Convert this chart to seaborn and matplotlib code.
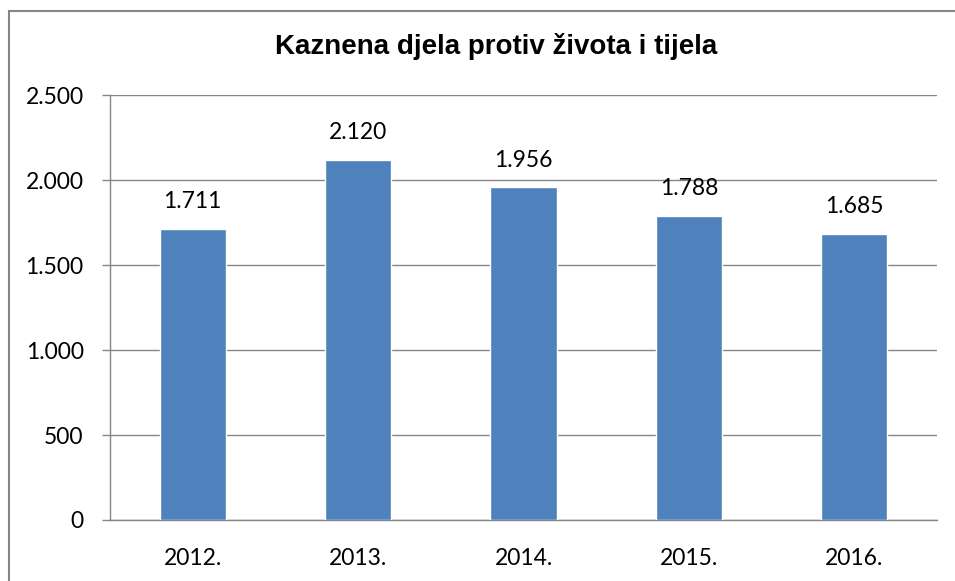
import matplotlib
matplotlib.use("Agg")
import matplotlib.pyplot as plt
import matplotlib.ticker as mticker
from matplotlib.patches import Rectangle
import seaborn as sns
import pandas as pd

years = ["2012.", "2013.", "2014.", "2015.", "2016."]
counts = [1711, 2120, 1956, 1788, 1685]
bar_color = "#4F81BD"
grid_gray = "#868686"

df = pd.DataFrame({"godina": years, "broj": counts})

sns.set_style("white")
plt.rcParams["font.family"] = ["Lato", "DejaVu Sans"]
plt.rcParams["text.color"] = "black"
plt.rcParams["xtick.color"] = "black"
plt.rcParams["ytick.color"] = "black"

def dotted(v):
    return f"{int(v):,}".replace(",", ".")

fig = plt.figure(figsize=(9.55, 5.81), dpi=100)
ax = fig.add_axes([110 / 955, 1 - 520 / 581, 827 / 955, 425 / 581])

sns.barplot(data=df, x="godina", y="broj", color=bar_color, width=0.4,
            saturation=1, ax=ax, zorder=3)

ax.set_xlim(-0.5, 4.5)
ax.set_ylim(0, 2500)
ax.yaxis.set_major_locator(mticker.MultipleLocator(500))
ax.yaxis.set_major_formatter(mticker.FuncFormatter(lambda v, p: dotted(v)))
ax.grid(axis="y", color=grid_gray, linewidth=1, zorder=0)
ax.set_xlabel("")
ax.set_ylabel("")

for s in ["top", "right"]:
    ax.spines[s].set_visible(False)
for s in ["left", "bottom"]:
    ax.spines[s].set_color(grid_gray)
    ax.spines[s].set_linewidth(1)

ax.set_xticks(range(len(years)))
ax.set_xticklabels(years)
ax.xaxis.set_minor_locator(mticker.FixedLocator([i - 0.5 for i in range(len(years) + 1)]))
ax.tick_params(axis="x", which="major", length=0, pad=20, labelsize=16.5,
               labelcolor="black")
ax.tick_params(axis="x", which="minor", length=6, color=grid_gray, width=1)
ax.tick_params(axis="y", length=6, color=grid_gray, width=1, pad=13, labelsize=16.5,
               labelcolor="black", left=True)

for i, v in enumerate(counts):
    ax.annotate(dotted(v), (i, v), xytext=(0, 12), textcoords="offset points",
                ha="center", va="bottom", fontsize=16.5, color="black")

fig.text(496 / 955, 1 - 47 / 581, "Kaznena djela protiv života i tijela", ha="center",
         va="center", fontsize=20, fontweight="bold", color="black",
         family=["Liberation Sans", "DejaVu Sans"])

fig.patches.append(Rectangle((9 / 955, -0.1), 1.0, 1 - 11 / 581 + 0.1,
                             transform=fig.transFigure, fill=False,
                             edgecolor=grid_gray, linewidth=1.5))

fig.savefig("out.png", dpi=100)
